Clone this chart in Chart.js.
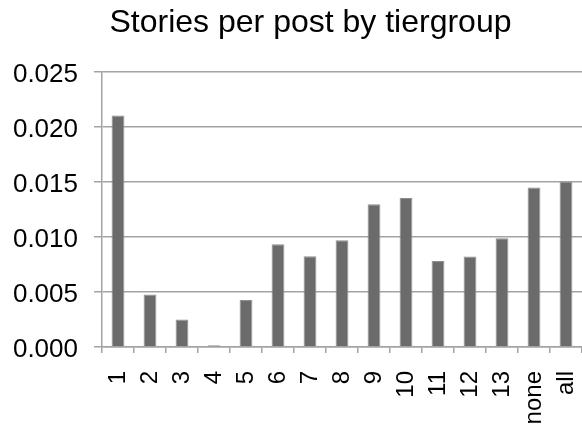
<!DOCTYPE html>
<html>
<head>
<meta charset="utf-8">
<script src="https://cdn.jsdelivr.net/npm/chart.js@4/dist/chart.umd.min.js"></script>
<style>
  html, body { margin: 0; padding: 0; background: #fff; }
  #wrap { width: 582px; height: 433px; }
</style>
</head>
<body>
<div id="wrap"><canvas id="storiesChart"></canvas></div>
<script>
// datos
var tierGroups = ['1', '2', '3', '4', '5', '6', '7', '8', '9', '10', '11', '12', '13', 'none', 'all'];
var storiesPerPost = [0.0210, 0.00476, 0.0025, 0.00015, 0.00426, 0.00933, 0.00824, 0.00969,
                      0.01295, 0.01352, 0.00779, 0.0082, 0.00987, 0.01446, 0.0150];
var yTicks = [0, 0.005, 0.010, 0.015, 0.020, 0.025];

var FONT = "'Liberation Sans', Arial, Helvetica, sans-serif";
var GRID = '#a3a3a3';

// mover el título un poco a la derecha, como en el original
var titleShift = {
    id: 'titleShift',
    afterLayout: function(chart) {
        if (chart.titleBlock) chart.titleBlock.left = 39;
    }
};

new Chart(document.getElementById('storiesChart'), {
    type: 'bar',
    data: {
        labels: tierGroups,
        datasets: [{
            label: 'Stories per post',
            data: storiesPerPost,
            backgroundColor: '#6b6b6b',
            borderColor: '#8f8f8f',
            borderWidth: 1,
            barPercentage: 0.4,
            categoryPercentage: 1
        }]
    },
    options: {
        responsive: true,
        maintainAspectRatio: false,
        animation: false,
        layout: { padding: 0 },
        plugins: {
            legend: { display: false },
            tooltip: { enabled: false },
            title: {
                display: true,
                text: 'Stories per post by tiergroup',
                color: '#000',
                font: { family: FONT, size: 32, weight: 'normal' },
                padding: { top: 4, bottom: 29 }
            }
        },
        scales: {
            x: {
                afterFit: function(scale) {
                    scale.height = 86;
                    // sin margen extra a los lados: el área llega al borde derecho
                    scale.paddingLeft = 0;
                    scale.paddingRight = 0;
                },
                grid: {
                    drawOnChartArea: false,
                    drawTicks: true,
                    tickLength: 6,
                    color: GRID,
                    lineWidth: 1.5
                },
                border: { color: GRID, width: 1.5 },
                ticks: {
                    color: '#000',
                    font: { family: FONT, size: 24 },
                    minRotation: 90,
                    maxRotation: 90,
                    padding: 18,
                    autoSkip: false
                }
            },
            y: {
                min: 0,
                max: 0.025,
                afterFit: function(scale) { scale.width = 102; },
                afterBuildTicks: function(scale) {
                    scale.ticks = yTicks.map(function(v) { return { value: v }; });
                },
                grid: {
                    color: GRID,
                    lineWidth: 1.5,
                    tickLength: 8
                },
                border: { color: GRID, width: 1.5 },
                ticks: {
                    color: '#000',
                    font: { family: FONT, size: 26 },
                    padding: 16,
                    labelOffset: 3,
                    callback: function(value) { return Number(value).toFixed(3); }
                }
            }
        }
    },
    plugins: [titleShift]
});
</script>
</body>
</html>
